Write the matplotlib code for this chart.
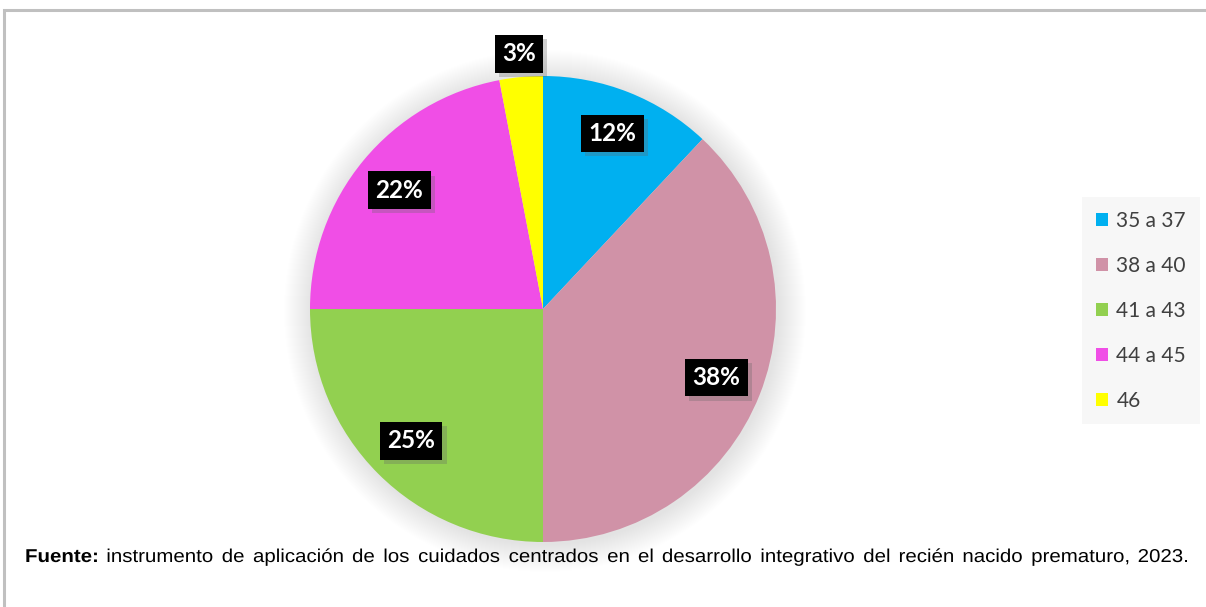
import numpy as np
import matplotlib
matplotlib.use("Agg")
import matplotlib.pyplot as plt
import matplotlib.patches as patches
import matplotlib.patheffects as pe
from matplotlib.textpath import TextPath
from matplotlib.font_manager import FontProperties
from matplotlib.transforms import Affine2D

# age ranges (weeks) and share of newborns
categories = ["35 a 37", "38 a 40", "41 a 43", "44 a 45", "46"]
values = [12, 38, 25, 22, 3]
colors = ["#00B0F0", "#D092A7", "#92D050", "#F04EE6", "#FFFF00"]
label_dist = [0.81, 0.80, 0.80, 0.80, 1.10]

source_bold = "Fuente:"
source_text = ("instrumento de aplicación de los cuidados centrados en el desarrollo "
               "integrativo del recién nacido prematuro, 2023.")

W, H = 1206, 607
fig = plt.figure(figsize=(W / 100, H / 100), dpi=100)
ax = fig.add_axes([0, 0, 1, 1])

# outer frame (only top and left edges fall inside the canvas)
ax.add_patch(patches.Rectangle((3.5, -10), W + 20, H - 9.5 + 10, fill=False,
                               edgecolor="#c0c0c0", linewidth=2.2, zorder=0))

cx, cy, R = 543, H - 309, 233

# soft glow behind the pie
for k in range(28):
    ax.add_patch(patches.Circle((cx + 2, cy - 2), R + 28 - k, facecolor="black",
                                edgecolor="none", alpha=0.0045, zorder=1))

wedges, _ = ax.pie(values, colors=colors, startangle=90, counterclock=False,
                   center=(cx, cy), radius=R, frame=True,
                   wedgeprops=dict(linewidth=0, zorder=2))
ax.set_xlim(0, W)
ax.set_ylim(0, H)
ax.set_aspect("equal")
ax.axis("off")

for w, v, d in zip(wedges, values, label_dist):
    mid = np.deg2rad((w.theta1 + w.theta2) / 2)
    x = cx + d * R * np.cos(mid)
    y = cy + d * R * np.sin(mid)
    t = ax.text(x, y, f"{v}%", ha="center", va="center", color="white",
                fontsize=17.5, fontweight="bold", family="Lato", zorder=5,
                bbox=dict(boxstyle="square,pad=0.3", facecolor="black",
                          edgecolor="none"))
    t.get_bbox_patch().set_path_effects([
        pe.SimplePatchShadow(offset=(3, -3), shadow_rgbFace="#666666", alpha=0.3),
        pe.Normal()])

handles = [patches.Patch(facecolor=c, edgecolor="none") for c in colors]
leg = fig.legend(handles, categories, loc="upper left",
                 bbox_to_anchor=(1082 / W, 1 - 197 / H),
                 prop=dict(family="Lato", size=15), labelcolor="#404040",
                 frameon=True, fancybox=False, facecolor="#f7f7f7",
                 edgecolor="none", framealpha=1, handlelength=0.6,
                 handleheight=0.6, handletextpad=0.4, labelspacing=1.2,
                 borderpad=0.65, borderaxespad=0)

# source note, justified across the width, glyphs slightly widened
x0, x1, base = 25, 1187, H - 562
em, stretch = 18.6, 1.1
words = [(source_bold, "bold")] + [(s, "normal") for s in source_text.split()]
paths = [TextPath((0, 0), s, size=em,
                  prop=FontProperties(family="Liberation Sans", weight=fw))
         for s, fw in words]
widths = [p.get_extents().x1 * stretch for p in paths]
gap = (x1 - x0 - sum(widths)) / (len(paths) - 1)
x = x0
for p, wd in zip(paths, widths):
    tr = Affine2D().scale(stretch, 1).translate(x, base) + ax.transData
    ax.add_patch(patches.PathPatch(p, facecolor="black", edgecolor="none",
                                   lw=0, transform=tr, zorder=4))
    x += wd + gap

fig.savefig("out.png", dpi=100, facecolor="white")
